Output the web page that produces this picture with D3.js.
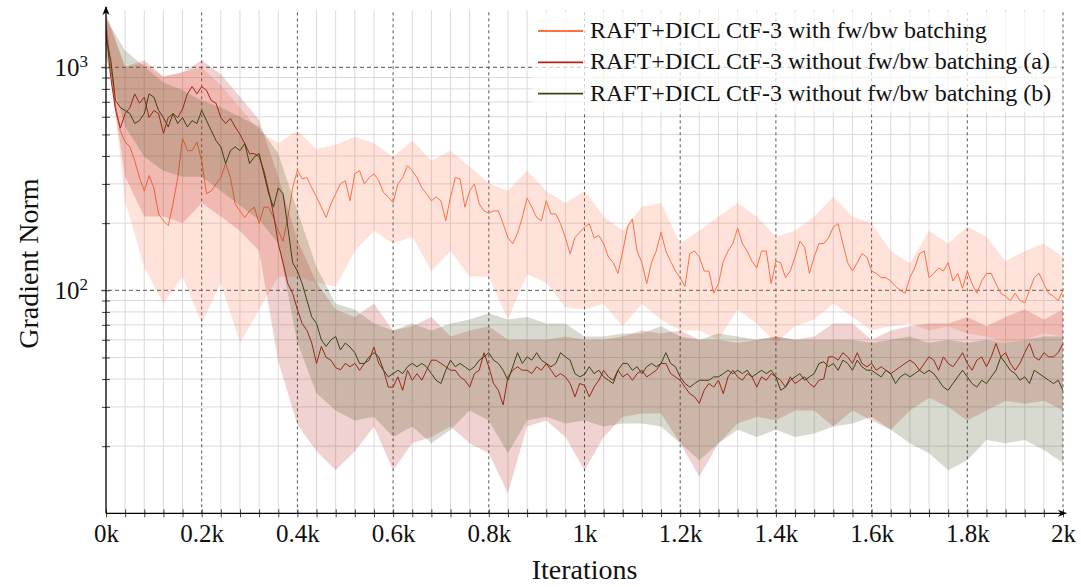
<!DOCTYPE html>
<html><head><meta charset="utf-8">
<script src="https://cdn.jsdelivr.net/npm/d3@7"></script>
<style>body{margin:0;background:#fff}</style>
</head><body><svg id="c" width="1081" height="587"></svg>
<script>
// ---------------- data ----------------
const LINE_STEP = 10;   // iterations between line samples
const BAND_STEP = 40;   // iterations between band samples
const xTickValues = [0,200,400,600,800,1000,1200,1400,1600,1800,2000];
const xTickLabels = ["0k","0.2k","0.4k","0.6k","0.8k","1k","1.2k","1.4k","1.6k","1.8k","2k"];
const yMajorTicks = [100, 1000];
const yMajorExponents = ["2", "3"];
const seriesNames = [
  "RAFT+DICL CtF-3 with fw/bw batching",
  "RAFT+DICL CtF-3 without fw/bw batching (a)",
  "RAFT+DICL CtF-3 without fw/bw batching (b)"
];
const seriesColors = ["#ff7043", "#b3201a", "#3a4510"];

const withBatching = [
1600,1000,670,520,462,440,381,320,279,327,
288,220,205,195,244,320,480,423,423,462,
381,271,279,300,320,370,320,244,227,212,
227,236,199,236,236,212,185,166,212,288,
344,316,320,288,262,236,212,244,271,300,
310,
252,333,344,300,320,333,310,274,262,247,
300,320,362,344,320,288,271,252,262,252,
205,262,320,316,236,279,300,244,227,222,
227,227,199,172,162,180,212,259,236,212,
205,252,220,220,199,172,146,172,182,192,
199,172,176,162,141,133,119,150,192,209,
150,133,107,133,150,182,150,135,122,114,
104,146,150,141,122,122,97,107,135,150,
162,190,162,150,135,126,150,150,107,135,
133,114,122,141,166,156,119,141,162,162,
172,192,199,162,133,122,133,146,141,122,
119,114,114,110,104,100,97,114,126,146,
150,114,119,126,122,133,110,119,102,122,
107,97,110,119,119,107,97,94,90,97,
90,88,100,114,119,107,97,94,90,100
];
const withoutA = [
1470,900,640,535,620,660,760,690,735,595,
640,620,505,595,620,595,650,760,820,760,
820,788,710,690,595,560,590,540,500,455,
410,410,397,344,279,220,162,133,107,97,
82,71,66,58,47,56,50,48.6,45,44,
47,
45.4,47.0,43.8,47.0,48.6,55.7,47.0,43.8,36.8,36.8,
40.9,35.6,43.8,39.5,42.3,39.5,43.8,48.6,48.6,47.0,
45.4,43.8,43.8,40.9,39.5,36.8,42.3,43.8,52.5,45.4,
38.2,35.6,30.6,40.9,43.8,45.4,43.8,43.8,42.3,45.4,
43.8,47.0,43.8,40.9,42.3,40.9,38.2,33.3,38.2,37.5,
33.3,36.8,39.5,43.8,40.9,39.5,43.8,40.9,42.3,39.5,
42.3,43.8,40.9,42.3,43.8,47.0,47.0,42.3,40.9,39.5,
36.8,34.4,33.3,31.1,35.6,38.2,36.8,39.5,34.4,40.9,
43.8,40.9,39.5,42.3,40.9,36.8,40.9,39.5,42.3,40.9,
39.5,36.8,40.9,38.2,39.5,40.9,38.2,36.8,39.5,40.0,
50.3,50.3,48.6,52.5,50.3,47.0,52.5,47.0,45.4,47.0,
43.8,45.4,43.8,42.3,43.8,45.4,47.0,48.6,47.0,43.8,
47.0,50.3,48.6,43.8,50.3,47.0,45.4,48.6,52.5,47.0,
43.8,48.6,50.3,45.4,50.3,57.8,50.3,52.5,47.0,43.8,
47.0,52.5,57.8,50.3,48.6,52.5,50.3,50.3,52.5,57.8
];
const withoutB = [
1360,1075,710,660,640,620,560,577,620,760,
735,640,595,540,620,560,595,540,577,560,
640,577,520,469,440,370,423,440,423,455,
370,397,410,333,271,236,288,271,192,133,
122,107,90,76,71,60,56,60,62,54,
58,
55.7,52.5,47.0,47.0,50.3,52.5,50.3,43.8,40.9,42.3,
43.8,42.3,45.4,47.0,45.4,47.0,45.4,42.3,39.5,38.2,
43.8,48.6,45.4,47.0,45.4,43.8,45.4,48.6,50.3,52.5,
48.6,47.0,43.8,39.5,45.4,52.5,47.0,50.3,48.6,52.5,
48.6,47.0,45.4,47.0,52.5,50.3,48.6,42.3,40.9,42.0,
45.4,42.3,43.8,40.9,39.5,38.2,43.8,47.0,47.0,43.8,
45.4,42.3,45.4,47.0,45.4,47.0,52.5,47.0,45.4,40.9,
38.2,36.8,38.2,39.5,39.5,39.5,40.9,40.9,42.3,43.8,
42.3,43.8,42.3,43.8,40.9,42.3,43.8,42.3,43.8,40.9,
35.6,36.8,39.5,40.9,42.3,39.5,40.9,42.3,47.0,47.8,
45.4,47.0,43.8,48.6,47.0,43.8,48.6,45.4,43.8,43.8,
42.3,40.9,43.8,42.3,38.2,40.9,42.3,40.9,42.3,43.8,
42.3,43.8,42.3,39.5,36.8,35.6,38.2,40.9,43.8,40.9,
38.2,36.8,39.5,38.2,40.9,43.8,50.3,47.0,43.8,42.3,
39.5,40.9,38.2,43.8,42.3,40.9,39.5,38.2,39.5,35.6
];
const withBatchingUpper = [1700,1000,1040,908,950,1000,830,660,520,456,520,430,450,488,456,397,470,381,423,358,302,279,344,279,246,279,214,185,237,246,162,185,214,246,214,174,185,214,263,214,200,150,132,185,162,193,174,135,150,162,141];
const withBatchingLower = [1500,250,127,87,115,71,108,58,82,115,115,108,104,150,185,162,174,122,150,115,115,74,118,108,84,82,87,69,87,74,66,66,60,82,71,58,69,74,87,76,66,69,71,66,69,64,62,58,60,64,62];
const withoutAUpper = [1750,1006,1075,908,950,1075,930,738,580,323,168,108,82,76,87,66,69,76,62,66,69,60,60,60,62,60,60,62,66,64,66,60,60,58,60,62,60,62,71,71,60,66,69,71,71,76,69,76,82,74,82];
const withoutALower = [1200,323,214,214,200,246,214,185,150,48,25,19,15.6,19,24.5,15.6,20.6,22,24.5,20.6,18.6,12.3,24.5,26.1,22,15.6,22,27.1,28,28,20.6,14.6,20.6,25.3,27.1,26.1,28.9,28.9,24.5,28.9,26.1,23.7,28.9,33,30,26.1,28.9,32,31,32,28.9];
const withoutBUpper = [1650,1190,1006,855,790,710,660,600,541,411,227,127,87,82,71,66,71,66,71,74,79,74,76,71,71,62,62,64,64,69,62,60,64,62,60,62,60,60,60,60,58,60,62,58,60,58,60,58,60,62,62];
const withoutBLower = [1100,541,397,344,323,323,279,240,207,162,58,34.5,28.9,26.1,27.1,22,24.5,20.6,23.7,28.9,26.1,18.6,26.1,27.1,25.3,26.1,24.5,25.3,25.3,24.5,20.6,17.3,20.6,23.7,22,23.7,22,22.8,24.5,25.3,27.1,23.7,20.6,18.6,15.6,17.3,21.3,20.6,21.3,19.2,16.8];

// ---------------- chart ----------------
const FONT = "'Liberation Serif','DejaVu Serif',serif";
const svg = d3.select("#c");
const L = 106, R = 1063, T = 10, B = 513.3;
const x = d3.scaleLinear().domain([0, 2000]).range([L, R]);
const y = d3.scaleLog().domain([10, 1807]).range([B, T]);

// grid
const gGrid = svg.append("g");
const minorX = d3.range(40, 2000, 40).filter(v => v % 200 !== 0);
gGrid.selectAll(".mx").data(minorX).enter().append("line")
  .attr("x1", d => x(d)).attr("x2", d => x(d)).attr("y1", B).attr("y2", T)
  .attr("stroke", "#dadada").attr("stroke-width", 1);
const minorY = [20,30,40,50,60,70,80,90,200,300,400,500,600,700,800,900];
gGrid.selectAll(".my").data(minorY).enter().append("line")
  .attr("x1", L).attr("x2", R).attr("y1", d => y(d)).attr("y2", d => y(d))
  .attr("stroke", "#dadada").attr("stroke-width", 1);
gGrid.selectAll(".Mx").data(xTickValues.slice(1)).enter().append("line")
  .attr("x1", d => x(d)).attr("x2", d => x(d)).attr("y1", B).attr("y2", T)
  .attr("stroke", "#555").attr("stroke-width", 1).attr("stroke-dasharray", "3,3");
gGrid.selectAll(".My").data(yMajorTicks).enter().append("line")
  .attr("x1", L - 5).attr("x2", R).attr("y1", d => y(d)).attr("y2", d => y(d))
  .attr("stroke", "#555").attr("stroke-width", 1).attr("stroke-dasharray", "4,3");

// series
svg.append("clipPath").attr("id", "clip").append("rect")
  .attr("x", L).attr("y", T).attr("width", R - L).attr("height", B - T);
const plot = svg.append("g").attr("clip-path", "url(#clip)");
const lines = [withBatching, withoutA, withoutB];
const uppers = [withBatchingUpper, withoutAUpper, withoutBUpper];
const lowers = [withBatchingLower, withoutALower, withoutBLower];
const area = d3.area().x(d => x(d.it)).y0(d => y(d.lo)).y1(d => y(d.hi));
const line = d3.line().x(d => x(d.it)).y(d => y(d.v));
lines.forEach((vals, s) => {
  const band = uppers[s].map((hi, i) => ({it: i * BAND_STEP, hi, lo: lowers[s][i]}));
  plot.append("path").datum(band).attr("d", area)
    .attr("fill", seriesColors[s]).attr("fill-opacity", 0.2).attr("stroke", "none");
  const pts = vals.map((v, i) => ({it: i * LINE_STEP, v}));
  plot.append("path").datum(pts).attr("d", line)
    .attr("fill", "none").attr("stroke", seriesColors[s]).attr("stroke-width", 1)
    .attr("stroke-linejoin", "round");
});

// axes
const xAxis = d3.axisBottom(x).tickValues(d3.range(0, 2001, 40)).tickSize(5)
  .tickFormat(d => { const k = xTickValues.indexOf(d); return k >= 0 ? xTickLabels[k] : ""; });
const gx = svg.append("g").attr("transform", `translate(0,${B})`).call(xAxis);
gx.select(".domain").remove();
gx.selectAll(".tick line").attr("stroke", "#444").attr("y1", -4).attr("y2", 4);
gx.selectAll(".tick text").attr("font-family", FONT).attr("font-size", 25)
  .attr("fill", "#111").attr("y", 11).attr("dy", "0.71em");

const yMinorTicks = [20,30,40,50,60,70,80,90,200,300,400,500,600,700,800,900];
const yAxis = d3.axisLeft(y).tickValues(yMinorTicks.concat(yMajorTicks)).tickSize(4).tickFormat("");
const gy = svg.append("g").attr("transform", `translate(${L},0)`).call(yAxis);
gy.select(".domain").remove();
gy.selectAll(".tick line").attr("stroke", "#444").attr("x1", -4).attr("x2", 4);

// y tick labels (10^n)
yMajorTicks.forEach((v, i) => {
  const t = svg.append("text").attr("x", 88).attr("y", y(v) + 9)
    .attr("text-anchor", "end").attr("font-family", FONT).attr("font-size", 25).attr("fill", "#111");
  t.append("tspan").text("10");
  t.append("tspan").attr("dy", -9).attr("font-size", 17).text(yMajorExponents[i]);
});

// axis lines with arrows
const defs = svg.append("defs");
defs.append("marker").attr("id", "arr").attr("viewBox", "0 0 10 10").attr("refX", 9).attr("refY", 5)
  .attr("markerWidth", 9).attr("markerHeight", 9).attr("markerUnits", "userSpaceOnUse").attr("orient", "auto")
  .append("path").attr("d", "M0,1 L10,5 L0,9 L3,5 Z").attr("fill", "#000");
svg.append("line").attr("x1", L).attr("x2", R + 3).attr("y1", B).attr("y2", B)
  .attr("stroke", "#000").attr("stroke-width", 1.3).attr("marker-end", "url(#arr)");
svg.append("line").attr("x1", L).attr("x2", L).attr("y1", B).attr("y2", T - 3)
  .attr("stroke", "#000").attr("stroke-width", 1.3).attr("marker-end", "url(#arr)");

// axis titles
svg.append("text").attr("x", (L + R) / 2).attr("y", 579).attr("text-anchor", "middle")
  .attr("font-family", FONT).attr("font-size", 28).attr("fill", "#111").text("Iterations");
svg.append("text").attr("transform", `translate(38,${(T + B) / 2 + 2}) rotate(-90)`).attr("text-anchor", "middle")
  .attr("font-family", FONT).attr("font-size", 28).attr("fill", "#111").text("Gradient Norm");

// legend
const lg = svg.append("g");
lg.append("rect").attr("x", 532).attr("y", 12).attr("width", 530).attr("height", 100)
  .attr("fill", "#fff").attr("fill-opacity", 0.7);
seriesNames.forEach((name, i) => {
  const cy = 31 + i * 31.3;
  lg.append("line").attr("x1", 538).attr("x2", 583).attr("y1", cy).attr("y2", cy)
    .attr("stroke", seriesColors[i]).attr("stroke-width", 1.8);
  lg.append("text").attr("x", 590).attr("y", cy + 7).attr("font-family", FONT)
    .attr("font-size", 24).attr("fill", "#111").text(name);
});
</script></body></html>
